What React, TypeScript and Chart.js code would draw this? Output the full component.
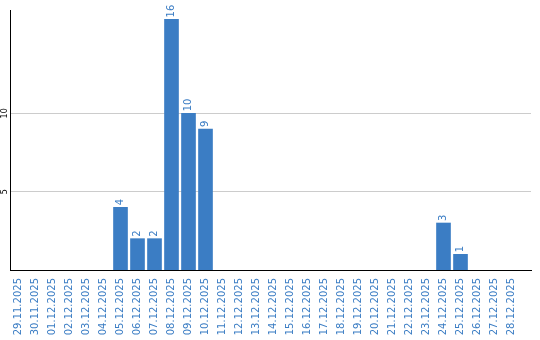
import React, { useEffect, useRef } from "react";
import { Chart, registerables } from "chart.js";

Chart.register(...registerables);

const dateLabels: string[] = [
  "29.11.2025", "30.11.2025", "01.12.2025", "02.12.2025", "03.12.2025",
  "04.12.2025", "05.12.2025", "06.12.2025", "07.12.2025", "08.12.2025",
  "09.12.2025", "10.12.2025", "11.12.2025", "12.12.2025", "13.12.2025",
  "14.12.2025", "15.12.2025", "16.12.2025", "17.12.2025", "18.12.2025",
  "19.12.2025", "20.12.2025", "21.12.2025", "22.12.2025", "23.12.2025",
  "24.12.2025", "25.12.2025", "26.12.2025", "27.12.2025", "28.12.2025",
];

const counts: number[] = [
  0, 0, 0, 0, 0,
  0, 4, 2, 2, 16,
  10, 9, 0, 0, 0,
  0, 0, 0, 0, 0,
  0, 0, 0, 0, 0,
  3, 1, 0, 0, 0,
];

const yTickValues: number[] = [5, 10];

const BLUE = "#3b7dc4";

const valueLabelPlugin = {
  id: "valueLabels",
  afterDatasetsDraw(chart: any) {
    const ctx = chart.ctx;
    const meta = chart.getDatasetMeta(0);
    ctx.save();
    ctx.font = "10px 'DejaVu Sans'";
    ctx.fillStyle = BLUE;
    ctx.textAlign = "left";
    ctx.textBaseline = "middle";
    meta.data.forEach((el: any, i: number) => {
      const v = counts[i];
      if (!v) return;
      ctx.save();
      ctx.translate(el.x, el.y - 2);
      ctx.rotate(-Math.PI / 2);
      ctx.fillText(String(v), 0, 0);
      ctx.restore();
    });
    ctx.restore();
  },
};

export default function App() {
  const ref = useRef<HTMLCanvasElement>(null);
  useEffect(() => {
    document.body.style.margin = "0";
    const canvas = ref.current!;
    const chart = new Chart(canvas, {
      type: "bar",
      data: {
        datasets: [
          {
            data: counts.map((v, i) => ({ x: i, y: v === 0 ? null : v })),
            backgroundColor: BLUE,
            borderWidth: 0,
            barThickness: 14,
          },
        ],
      },
      options: {
        animation: false,
        responsive: false,
        maintainAspectRatio: false,
        layout: { padding: { top: 10, right: 9, left: 0, bottom: 0 } },
        plugins: { legend: { display: false }, tooltip: { enabled: false } },
        scales: {
          x: {
            type: "linear",
            offset: false,
            min: -0.5,
            max: 30.147,
            afterBuildTicks: (s: any) => {
              s.ticks = dateLabels.map((_, i) => ({ value: i }));
            },
            afterFit: (s: any) => {
              s.height = 70;
            },
            grid: { display: false, drawTicks: false, offset: false },
            border: { display: true, color: "#000", width: 1 },
            ticks: {
              autoSkip: false,
              minRotation: 90,
              maxRotation: 90,
              padding: 8,
              color: BLUE,
              font: { family: "'DejaVu Sans'", size: 10 },
              callback: (v: any) => dateLabels[v] ?? "",
            },
          },
          y: {
            min: 0,
            max: 16.6,
            afterBuildTicks: (s: any) => {
              s.ticks = yTickValues.map((v) => ({ value: v }));
            },
            afterFit: (s: any) => {
              s.width = 10;
            },
            grid: { color: "#cccccc", drawTicks: false },
            border: { display: true, color: "#000", width: 1 },
            ticks: {
              minRotation: 90,
              maxRotation: 90,
              crossAlign: "center",
              padding: 0,
              color: "#000",
              font: { family: "'DejaVu Sans'", size: 8 },
            },
          },
        },
      },
      plugins: [valueLabelPlugin],
    });
    return () => chart.destroy();
  }, []);
  return <canvas ref={ref} width={540} height={340} style={{ display: "block" }} />;
}
